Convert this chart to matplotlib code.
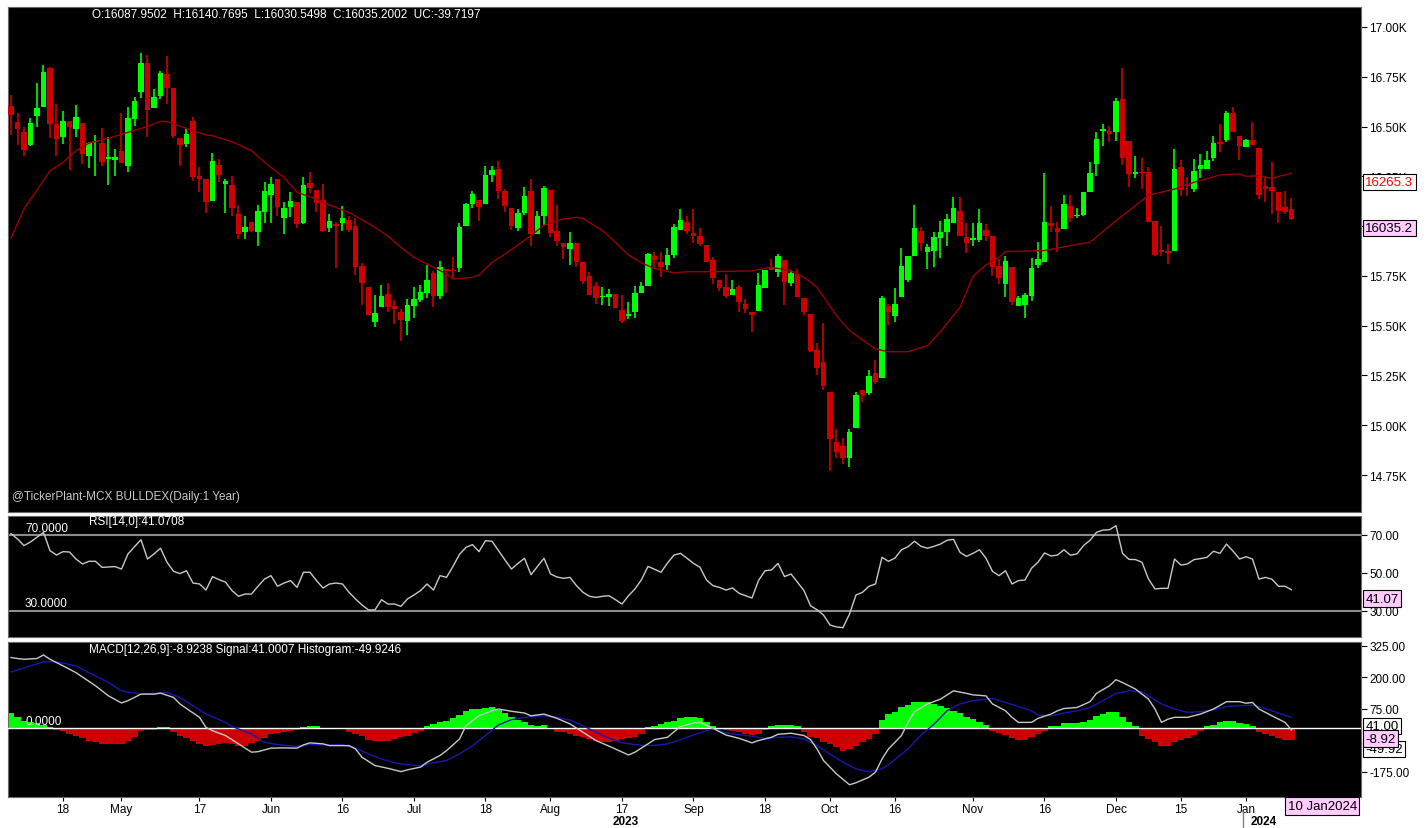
import numpy as np
import pandas as pd
import matplotlib
matplotlib.use("Agg")
import matplotlib.pyplot as plt
from matplotlib.lines import Line2D
import matplotlib.transforms as mtransforms

plt.rcParams['font.family'] = ['Liberation Sans', 'DejaVu Sans']

# ---------------- data ----------------
opens = [16605,16524,16473,16407,16555,16600,16792,16513,16446,16530,
16488,16518,16350,16420,16416,16337,16334,16376,16304,16538,
16675,16819,16593,16652,16764,16692,16443,16412,16528,16253,
16237,16128,16309,16211,16206,16059,15969,16019,15969,16073,
16158,16237,16039,16094,16119,16016,16217,16183,16131,15989,
16006,16016,16031,16002,15798,15696,15520,15595,15659,15597,
15570,15525,15600,15629,15664,15765,15651,15785,15781,15788,
16002,16111,16133,16111,16257,16287,16178,16091,15992,16064,
16178,15960,16052,16183,15977,15915,15885,15915,15818,15751,
15698,15642,15642,15659,15580,15550,15567,15664,15698,15848,
15818,15805,15857,15981,16019,15964,15949,15907,15832,15731,
15693,15656,15696,15609,15570,15572,15688,15796,15771,15830,
15713,15758,15639,15559,15378,15319,15165,14914,14894,14834,
14986,15179,15162,15262,15236,15600,15550,15642,15731,15852,
15977,15868,15873,15940,15969,16016,16074,15944,15932,15930,
15981,15952,15798,15709,15796,15597,15604,15651,15806,15821,
16014,15989,15986,16103,16049,16056,16170,16312,16479,16479,
16474,16638,16429,16262,16270,16273,16027,15882,15868,15877,
16295,16211,16186,16287,16287,16340,16424,16432,16568,16451,
16396,16434,16392,16203,16195,16170,16094,16087.95]

highs = [16660,16568,16496,16541,16717,16809,16797,16615,16576,16530,
16610,16518,16424,16458,16491,16449,16387,16568,16597,16650,
16870,16859,16689,16781,16856,16692,16443,16488,16548,16295,
16237,16367,16337,16237,16250,16106,16052,16019,16106,16220,
16245,16237,16119,16173,16119,16245,16270,16183,16211,16061,
16019,16099,16052,16041,15813,15696,15654,15706,15713,15629,
15584,15634,15696,15706,15805,15776,15826,15785,15843,16016,
16116,16178,16133,16304,16304,16329,16186,16091,16086,16195,
16237,16074,16200,16183,16106,15915,15969,15915,15818,15771,
15718,15696,15684,15659,15654,15617,15698,15721,15865,15868,
15868,15890,16011,16086,16049,16086,15989,15907,15843,15731,
15760,15729,15704,15634,15570,15765,15780,15835,15860,15830,
15781,15785,15639,15559,15411,15513,15165,14981,14934,14981,
15169,15179,15279,15329,15647,15609,15687,15888,15848,16106,
15997,15910,15972,16024,16061,16145,16145,16014,16014,16086,
16011,15952,15835,15848,15796,15647,15662,15840,15919,16267,
16099,16022,16156,16156,16091,16173,16320,16474,16513,16505,
16643,16792,16429,16350,16342,16299,16027,16002,15910,16387,
16332,16245,16337,16362,16379,16454,16513,16580,16597,16451,
16437,16521,16392,16250,16324,16170,16178,16140.77]

lows = [16458,16407,16350,16404,16499,16600,16441,16350,16412,16283,
16446,16312,16290,16253,16304,16208,16253,16315,16270,16504,
16645,16446,16593,16638,16613,16441,16304,16396,16228,16170,
16066,16128,16223,16066,16049,15935,15935,15972,15902,16014,
16014,16052,15960,16044,15989,16011,16166,16069,15969,15969,
15788,15977,15969,15754,15605,15555,15492,15595,15570,15508,
15425,15453,15537,15620,15639,15595,15634,15664,15738,15771,
15999,16089,16027,16111,16220,16136,16069,15982,15977,16057,
15898,15960,16002,15944,15898,15835,15805,15793,15709,15656,
15609,15604,15600,15587,15513,15533,15537,15664,15698,15788,
15746,15781,15838,15981,15960,15914,15902,15818,15709,15676,
15637,15656,15567,15562,15470,15572,15688,15780,15743,15604,
15698,15646,15555,15366,15254,15179,14772,14834,14805,14789,
14986,15115,15152,15207,15236,15503,15520,15642,15718,15852,
15877,15785,15793,15840,15898,16016,15952,15865,15898,15918,
15927,15748,15709,15646,15604,15597,15537,15626,15788,15821,
15969,15868,15986,16019,16039,16049,16170,16250,16401,16421,
16429,16307,16195,16240,16186,16022,15852,15852,15810,15877,
16150,16150,16173,16240,16287,16329,16371,16421,16474,16334,
16396,16407,16136,16119,16061,16016,16061,16030.55]

closes = [16560,16486,16384,16518,16592,16774,16514,16436,16530,16499,
16546,16362,16416,16422,16324,16340,16349,16315,16541,16627,
16819,16583,16647,16769,16692,16451,16409,16463,16248,16237,
16123,16325,16258,16225,16089,15959,15996,15975,16076,16178,
16211,16094,16091,16126,16011,16206,16191,16116,15977,16024,
16002,16041,15980,15793,15714,15555,15564,15651,15595,15584,
15530,15604,15634,15671,15729,15651,15793,15773,15773,15997,
16111,16161,16094,16258,16282,16175,16103,16002,16064,16149,
15960,16052,16190,15965,15924,15897,15915,15821,15726,15656,
15637,15651,15659,15587,15525,15559,15662,15698,15860,15830,
15793,15855,15997,16031,15974,15949,15910,15822,15738,15688,
15651,15684,15617,15584,15555,15704,15780,15780,15848,15721,
15763,15646,15570,15374,15287,15195,14931,14864,14834,14968,
15153,15153,15246,15219,15637,15567,15609,15801,15848,15989,
15914,15897,15944,15969,16036,16091,15952,15914,15939,16014,
15952,15796,15738,15823,15617,15637,15654,15790,15835,16019,
16002,15969,16111,16039,16056,16173,16267,16438,16484,16463,
16627,16340,16262,16267,16265,16022,15857,15868,15865,16287,
16181,16200,16278,16307,16332,16416,16412,16568,16474,16404,
16434,16407,16156,16186,16178,16078,16073,16035.20]

# moving average (candle index, value)
ma_idx = [0,2,6,8,10,12,15,18,21,23,24,28,30,31,34,37,39,42,44,47,
          49,52,56,58,60,62,64,67,68,71,72,74,76,80,82,85,87,88,91,93,
          95,97,99,102,104,107,114,117,120,122,124,125,127,129,133,135,138,141,143,146,
          148,150,152,153,156,159,163,166,170,173,175,177,179,182,186,189,190,192,194,195,197]
ma_val = [15939,16086,16278,16320,16379,16417,16441,16471,16501,16526,16525,16479,16458,16454,16424,16379,16320,16245,16170,16136,
          16106,16069,15994,15949,15893,15843,15810,15760,15734,15743,15754,15818,15860,15952,16005,16036,16044,16039,15977,15918,
          15855,15815,15788,15765,15771,15771,15775,15793,15776,15743,15693,15647,15550,15475,15383,15369,15369,15400,15470,15592,
          15748,15805,15843,15872,15875,15877,15902,15919,16027,16103,16156,16170,16186,16220,16257,16262,16250,16253,16240,16250,16265.3]

rsi = [70.7,67.9,64.4,66.3,68.8,71.4,61.7,59.4,61.2,61.0,
       57.3,54.7,56.1,56.1,52.9,53.1,53.3,52.0,60.0,63.8,
       67.5,57.3,60.0,63.0,55.6,50.8,49.6,51.1,44.6,44.1,
       40.9,48.0,46.4,45.1,40.6,37.6,38.8,38.8,42.9,46.7,
       48.5,42.9,44.6,45.9,42.3,50.3,50.3,45.9,42.0,44.1,
       44.6,44.1,39.7,36.2,33.0,30.4,30.4,35.8,33.5,33.5,
       32.3,36.2,38.3,40.6,44.1,40.9,48.5,47.6,53.4,59.8,
       63.5,64.9,61.2,67.0,66.7,61.7,56.8,52.0,55.0,57.7,
       49.0,53.4,57.7,49.4,47.8,47.1,47.6,43.2,39.7,37.6,
       37.0,37.6,37.9,35.8,33.5,37.9,41.5,46.4,53.4,51.9,
       50.3,55.2,59.4,60.3,57.7,55.0,52.9,46.2,43.2,
       42.3,40.9,42.0,39.2,37.9,36.7,45.9,51.1,51.5,55.0,
       48.0,49.4,45.0,40.6,32.6,30.5,27.7,22.4,21.4,21.0,
       28.2,38.3,39.7,42.9,44.1,58.2,56.1,57.8,62.2,63.8,
       66.7,64.0,63.0,64.0,65.2,67.2,67.7,60.8,58.7,60.3,
       62.2,57.7,50.8,48.5,51.1,44.1,45.9,46.2,52.4,55.6,
       60.5,58.9,59.4,62.2,59.3,60.0,64.4,67.2,71.4,72.6,
       72.8,74.9,60.3,57.1,57.0,55.6,46.7,41.5,41.8,41.8,
       57.3,54.1,54.7,57.0,57.5,58.2,61.4,60.3,65.2,61.5,
       57.3,58.5,57.3,46.7,47.6,46.6,42.9,42.9,41.07]

hist = [58,41,28,21,17,11,3,-8,-14,-25,
        -31,-42,-51,-58,-64,-64,-64,-64,-51,-38,
        -12,-9,-9,4,4,-18,-31,-42,-51,-64,
        -74,-68,-64,-62,-64,-71,-74,-62,-51,-42,
        -25,-21,-18,-14,-9,4,8,8,-2,0,
        -5,-5,-18,-25,-34,-47,-54,-54,-51,-45,
        -38,-31,-21,-12,8,14,21,28,37,50,
        67,74,76,79,80,71,58,41,32,21,
        11,5,11,-5,-16,-18,-25,-31,-38,-45,
        -51,-55,-55,-51,-45,-42,-36,-25,1,5,
        14,21,28,38,41,41,37,21,8,
        -5,-8,-12,-18,-24,-28,-24,-8,6,12,
        12,10,5,-18,-38,-42,-58,-64,-78,-91,
        -84,-71,-58,-45,-25,32,54,63,80,90,
        103,103,100,94,84,78,67,58,41,34,
        21,11,-12,-21,-29,-42,-47,-47,-38,-25,
        -12,5,8,17,17,20,24,32,47,54,
        61,61,41,21,8,-31,-45,-58,-74,-74,
        -58,-47,-42,-29,-12,8,11,21,28,28,
        18,14,8,-18,-25,-34,-42,-47,-49.92]

macd_idx = [0,1,2,4,5,6,8,10,13,15,17,18,20,22,23,25,26,27,29,30,
            31,33,35,37,38,40,42,44,45,46,48,49,52,53,54,56,58,60,61,63,
            64,66,67,69,70,72,74,75,77,79,80,82,84,86,88,90,92,95,96,98,
            99,101,103,105,106,108,
            109,110,112,114,115,117,118,120,122,123,124,125,127,129,130,132,133,134,135,137,
            138,139,141,143,145,147,148,150,151,153,154,155,157,158,160,161,162,164,166,167,
            169,170,171,173,175,176,177,178,179,181,183,185,187,189,190,191,192,194,196,197]
macd_val = [278,274,271,274,288,271,245,218,166,126,98,107,133,133,137,120,94,76,41,1,
            -12,-31,-64,-97,-95,-81,-80,-81,-68,-60,-64,-71,-71,-84,-117,-150,-161,-174,-167,-156,
            -137,-110,-91,-45,8,47,67,74,65,58,47,54,37,15,-18,-51,-73,-108,-97,-64,
            -47,-38,5,18,21,-2,
            -16,-29,-42,-60,-51,-38,-26,-22,-31,-47,-84,-130,-183,-226,-218,-196,-176,-124,-84,-31,
            21,63,94,113,146,136,130,126,94,67,41,21,21,37,54,67,76,80,103,136,
            166,190,179,153,113,74,21,34,41,41,54,74,103,103,97,100,74,47,21,-8.92]

sig_idx = [0,3,5,7,10,12,15,17,20,23,24,26,28,30,33,34,37,39,41,44,
           46,48,51,53,55,57,59,61,63,65,67,69,71,73,75,77,80,82,84,86,
           88,90,92,94,97,99,101,103,105,107,108,
           110,114,116,118,120,122,124,126,128,130,132,134,135,136,138,140,142,144,146,148,
           151,153,155,157,158,160,162,164,166,168,170,172,174,175,177,179,181,183,185,187,
           189,191,193,195,197]
sig_val = [221,245,261,261,245,218,179,146,133,137,140,120,87,54,21,5,-25,-58,-67,-74,
           -67,-68,-68,-81,-104,-124,-139,-147,-150,-139,-130,-104,-71,-31,11,32,45,47,41,30,
           8,-18,-42,-60,-70,-70,-64,-47,-29,-12,-5,
           -21,-34,-42,-38,-36,-45,-71,-104,-137,-163,-174,-163,-147,-126,-84,-29,14,67,94,107,
           116,100,84,67,50,47,58,67,80,107,136,146,142,126,94,74,61,63,71,84,
           87,89,76,58,41.0]

holidays = ['2023-08-15', '2023-12-25']
tick_dates = ['2023-04-18','2023-05-01','2023-05-17','2023-06-01','2023-06-16','2023-07-03',
              '2023-07-18','2023-08-01','2023-08-17','2023-09-01','2023-09-18','2023-10-02',
              '2023-10-16','2023-11-01','2023-11-16','2023-12-01','2023-12-15','2024-01-01']
tick_labels = ['18','May','17','Jun','16','Jul','18','Aug','17','Sep','18','Oct',
               '16','Nov','16','Dec','15','Jan']
price_ticks = [14750,15000,15250,15500,15750,16000,16250,16500,16750,17000]
rsi_ticks = [30, 50, 70]
macd_ticks = [-175, 75, 200, 325]

header = "O:16087.9502  H:16140.7695  L:16030.5498  C:16035.2002  UC:-39.7197"
watermark = "@TickerPlant-MCX BULLDEX(Daily:1 Year)"
rsi_title = "RSI[14,0]:41.0708"
macd_title = "MACD[12,26,9]:-8.9238 Signal:41.0007 Histogram:-49.9246"
ma_last = 16265.3
rsi_last = 41.07
macd_last = -8.92
signal_last = 41.00
hist_last = -49.92
date_last = "10 Jan2024"

# ---------------- figure ----------------
O = np.array(opens); Hh = np.array(highs); L = np.array(lows); C = np.array(closes)
n = len(C)
x = np.arange(n)
dates = pd.bdate_range('2023-03-01', '2024-01-10')
dates = dates[~dates.isin(pd.to_datetime(holidays))][-n:]

GREEN = '#00ff00'
RED = '#cc0000'
PINK = '#ffccff'

W, H = 1428, 829
fig = plt.figure(figsize=(W / 100, H / 100), dpi=100, facecolor='white')

def px_axes(x0, y0, x1, y1):
    return fig.add_axes([x0 / W, 1 - y1 / H, (x1 - x0) / W, (y1 - y0) / H])

ax1 = px_axes(8, 8, 1361, 513)
ax2 = px_axes(8, 517, 1361, 638)
ax3 = px_axes(8, 643, 1361, 798)

xmin = -3 / 6.5
xmax = xmin + 1353 / 6.5
for ax in (ax1, ax2, ax3):
    ax.set_facecolor('black')
    ax.set_xlim(xmin, xmax)
    for s in ax.spines.values():
        s.set_color('#6a6a6a')
        s.set_linewidth(0.8)
    ax.yaxis.tick_right()
    ax.tick_params(axis='y', which='both', direction='out', length=4, width=0.8,
                   colors='black', labelsize=8.5, pad=2)
    ax.tick_params(axis='x', which='both', bottom=False, labelbottom=False)

# --- price panel
ax1.set_ylim(14564.2, 17100.4)
up = C >= O
cols = np.where(up, GREEN, RED)
ax1.vlines(x, L, Hh, colors=cols, lw=1.2, zorder=2)
body_b = np.minimum(O, C)
body_h = np.maximum(np.abs(C - O), 8)
ax1.bar(x, body_h, bottom=body_b, width=0.8, color=cols, linewidth=0, zorder=3)
ax1.plot(ma_idx, ma_val, color='#990000', lw=1.0, zorder=4)
ax1.set_yticks(price_ticks)
ax1.set_yticklabels([f"{v/1000:.2f}K" for v in price_ticks])

def rbox(ax, yval, txt, fc, tc, z):
    ax.annotate(txt, xy=(1.0, yval), xycoords=('axes fraction', 'data'),
                xytext=(3.2, -2.0), textcoords='offset points', ha='left', va='top',
                fontsize=9.5, color=tc, annotation_clip=False, zorder=z,
                bbox=dict(boxstyle='square,pad=0.18', fc=fc, ec='black', lw=0.8))

rbox(ax1, ma_last, f"{ma_last:.1f}", 'white', '#ff0000', 10)
rbox(ax1, C[-1], f"{C[-1]:.1f}", PINK, 'black', 11)

fig.text(92 / W, 1 - 15 / H, header, color='white', fontsize=8.5, va='center', ha='left')
fig.text(12 / W, 1 - 497 / H, watermark, color='#c8c8c8', fontsize=8.5, va='center', ha='left')

# --- RSI panel
ax2.set_ylim(16.08, 80.04)
ax2.axhline(70, color='#8c8c8c', lw=1.5, zorder=1)
ax2.axhline(30, color='#8c8c8c', lw=1.5, zorder=1)
ax2.plot(x, rsi, color='#c8c8c8', lw=1.0, zorder=3)
ax2.set_yticks(rsi_ticks)
ax2.set_yticklabels([f"{v:.2f}" for v in rsi_ticks])
rbox(ax2, rsi_last, f"{rsi_last:.2f}", PINK, 'black', 10)
fig.text(89 / W, 1 - 522 / H, rsi_title, color='white', fontsize=8.5, va='center', ha='left')
fig.text(25 / W, 1 - 529 / H, "70.0000", color='white', fontsize=8.5, va='center', ha='left')
fig.text(25 / W, 1 - 604 / H, "30.0000", color='white', fontsize=8.5, va='center', ha='left')

# --- MACD panel
ax3.set_ylim(-274.5, 339.4)
hv = np.array(hist)
ax3.bar(x, hv, width=1.0, color=np.where(hv >= 0, GREEN, RED), linewidth=0, zorder=2)
ax3.axhline(0, color='white', lw=1.0, zorder=3)
ax3.plot(sig_idx, sig_val, color='#1818b0', lw=1.0, zorder=4)
ax3.plot(macd_idx, macd_val, color='#c8c8c8', lw=1.0, zorder=5)
ax3.set_yticks(macd_ticks)
ax3.set_yticklabels([f"{v:.2f}" for v in macd_ticks])
rbox(ax3, signal_last, f"{signal_last:.2f}", 'white', 'black', 10)
rbox(ax3, hist_last, f"{hist_last:.2f}", 'white', 'black', 11)
rbox(ax3, macd_last, f"{macd_last:.2f}", PINK, 'black', 12)
fig.text(89 / W, 1 - 650 / H, macd_title, color='white', fontsize=8.5, va='center', ha='left')
fig.text(25 / W, 1 - 722 / H, "0.0000", color='white', fontsize=8.5, va='center', ha='left')

# x axis (dates)
tpos = dates.get_indexer(pd.to_datetime(tick_dates))
ax3.set_xticks(tpos)
ax3.set_xticklabels(tick_labels)
ax3.tick_params(axis='x', bottom=True, labelbottom=True, direction='out', length=3,
                width=0.8, colors='black', labelsize=8.5, pad=1)

years = dates.year
first_2024 = int(np.argmax(years == 2024))
trans = mtransforms.blended_transform_factory(ax3.transData, fig.transFigure)
ax3.add_artist(Line2D([first_2024 - 0.5, first_2024 - 0.5], [1 - 813 / H, 0.0],
                      transform=trans, color='#808080', lw=1.0, clip_on=False))
ax3.text((first_2024 - 1) / 2, 1 - 822 / H, "2023", transform=trans, ha='center',
         va='center', fontsize=8.5, fontweight='bold', color='black', clip_on=False)
ax3.text(first_2024 + 2.7, 1 - 822 / H, "2024", transform=trans, ha='center',
         va='center', fontsize=8.5, fontweight='bold', color='black', clip_on=False)
ax3.text(n - 1 - 0.6, 1 - 807 / H, date_last, transform=trans, ha='left', va='center',
         fontsize=9.5, color='black', clip_on=False, zorder=10,
         bbox=dict(boxstyle='square,pad=0.2', fc=PINK, ec='black', lw=0.8))

fig.savefig('out.png', dpi=100, facecolor='white')
